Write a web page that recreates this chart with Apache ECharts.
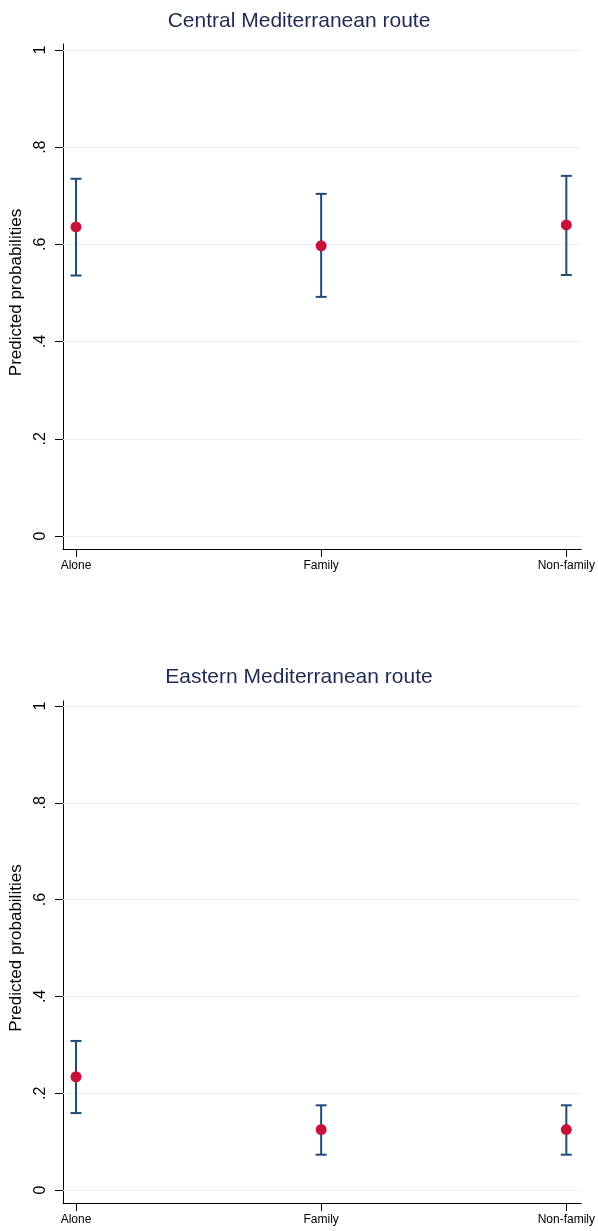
<!DOCTYPE html>
<html>
<head>
<meta charset="utf-8">
<script src="https://cdn.jsdelivr.net/npm/echarts@6/dist/echarts.min.js"></script>
<style>
html,body{margin:0;padding:0;background:#fff;}
#chart{width:598px;height:1231px;}
</style>
</head>
<body>
<div id="chart"></div>
<script>
// ---- data ----
const categories = ['Alone', 'Family', 'Non-family'];
const categoryPos = [1, 2, 3];
const panelTitles = ['Central Mediterranean route', 'Eastern Mediterranean route'];
const centralEst = [0.636, 0.597, 0.640];
const centralLo = [0.536, 0.492, 0.537];
const centralHi = [0.735, 0.704, 0.741];
const easternEst = [0.234, 0.125, 0.125];
const easternLo = [0.159, 0.073, 0.073];
const easternHi = [0.308, 0.175, 0.175];
const yTicks = [0, 0.2, 0.4, 0.6, 0.8, 1];
const yTickLabels = ['0', '.2', '.4', '.6', '.8', '1'];
const yAxisName = 'Predicted probabilities';

const panels = [
  {est: centralEst, lo: centralLo, hi: centralHi},
  {est: easternEst, lo: easternLo, hi: easternHi}
];

// ---- layout ----
const gridDefs = [
  {top: 44, height: 505},
  {top: 701, height: 502}
];
const titleTops = [6, 662];
const yRanges = [
  {min: -0.0267, max: 1.0123},
  {min: -0.0268, max: 1.0103}
];
const ebColor = '#1f4b76';
const ptColor = '#c8103a';
const gridColor = '#ebf0f3';
const titleColor = '#1e2b52';
const font = 'Liberation Sans, Arial, sans-serif';

const chart = echarts.init(document.getElementById('chart'), null, {renderer: 'canvas'});

const grids = [], xAxes = [], yAxes = [], series = [], titles = [];
panels.forEach((p, i) => {
  grids.push({left: 63, width: 520, top: gridDefs[i].top, height: gridDefs[i].height, containLabel: false});
  titles.push({
    text: panelTitles[i], left: 'center', top: titleTops[i],
    textStyle: {fontFamily: font, fontSize: 21, fontWeight: 'normal', color: titleColor}
  });
  xAxes.push({
    type: 'value', gridIndex: i, min: 0.947, max: 3.061,
    axisLine: {show: true, onZero: false, lineStyle: {color: '#000', width: 1}},
    axisTick: {show: true, length: 8, customValues: categoryPos, lineStyle: {color: '#000'}},
    axisLabel: {
      customValues: categoryPos, margin: 11,
      fontFamily: font, fontSize: 12, color: '#000',
      formatter: v => categories[categoryPos.indexOf(Math.round(v))] || ''
    },
    splitLine: {show: false}
  });
  yAxes.push({
    type: 'value', gridIndex: i, min: yRanges[i].min, max: yRanges[i].max,
    name: yAxisName, nameLocation: 'middle', nameGap: 36,
    nameTextStyle: {fontFamily: font, fontSize: 17, color: '#000', padding: [0, 0, 0, 8]},
    axisLine: {show: true, lineStyle: {color: '#000', width: 1}},
    axisTick: {show: true, length: 8, customValues: yTicks, lineStyle: {color: '#000'}},
    axisLabel: {
      customValues: yTicks, rotate: 90, margin: 14,
      fontFamily: font, fontSize: 16, color: '#000',
      formatter: v => yTickLabels[yTicks.findIndex(t => Math.abs(t - v) < 1e-6)] ?? ''
    },
    splitLine: {show: false}
  });
  // gridlines through markLine
  series.push({
    type: 'line', xAxisIndex: i, yAxisIndex: i, data: [], silent: true, z: 1,
    markLine: {
      silent: true, symbol: 'none', label: {show: false},
      lineStyle: {color: gridColor, width: 1, type: 'solid'},
      data: yTicks.map(t => ({yAxis: t}))
    }
  });
  // error bars
  series.push({
    type: 'custom', xAxisIndex: i, yAxisIndex: i, zlevel: 1,
    data: categoryPos.map((x, k) => [x, p.lo[k], p.hi[k]]),
    renderItem: (params, api) => {
      const x = api.value(0);
      const lo = api.coord([x, api.value(1)]);
      const hi = api.coord([x, api.value(2)]);
      const hw = 5.5;
      const style = {stroke: ebColor, lineWidth: 2};
      return {type: 'group', children: [
        {type: 'line', shape: {x1: lo[0], y1: lo[1], x2: hi[0], y2: hi[1]}, style},
        {type: 'line', shape: {x1: hi[0] - hw, y1: hi[1], x2: hi[0] + hw, y2: hi[1]}, style},
        {type: 'line', shape: {x1: lo[0] - hw, y1: lo[1], x2: lo[0] + hw, y2: lo[1]}, style}
      ]};
    },
    z: 3
  });
  series.push({
    type: 'scatter', xAxisIndex: i, yAxisIndex: i, zlevel: 1,
    data: categoryPos.map((x, k) => [x, p.est[k]]),
    symbol: 'circle', symbolSize: 11,
    itemStyle: {color: ptColor, opacity: 1},
    z: 4
  });
});

chart.setOption({
  animation: false,
  backgroundColor: '#fff',
  title: titles,
  grid: grids,
  xAxis: xAxes,
  yAxis: yAxes,
  series: series
});
</script>
</body>
</html>
